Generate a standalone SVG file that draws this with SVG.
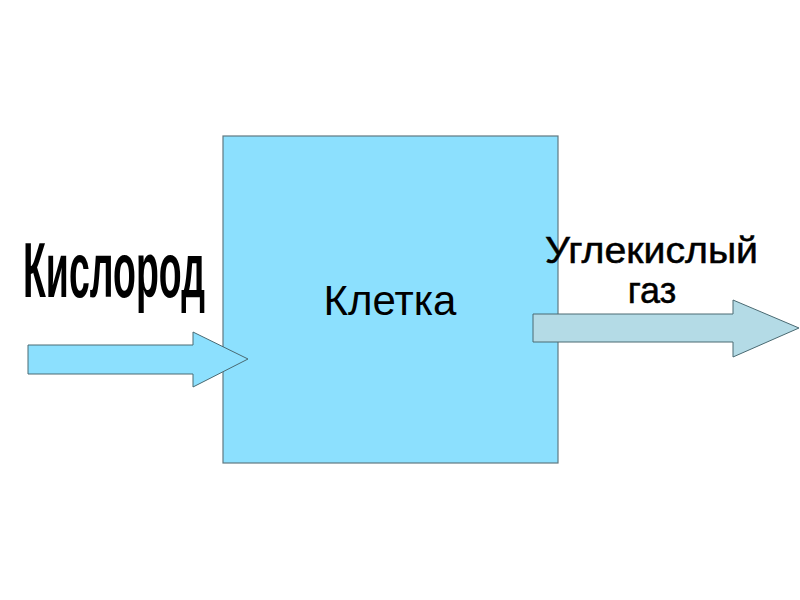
<svg xmlns="http://www.w3.org/2000/svg" width="800" height="600" viewBox="0 0 800 600">
<style>
.lbl{font-family:"Liberation Sans",Arial,sans-serif;fill:#000}
.arrow{stroke:#4a6a72;stroke-width:1}
</style>
<rect width="800" height="600" fill="#fff"/>
<g id="cell">
<rect x="223" y="136" width="335" height="327" fill="#8ce0fe" stroke="#607880" stroke-width="1.2"/>
<text class="lbl" x="390" y="315" font-size="42" text-anchor="middle">Клетка</text>
</g>
<g id="connectors">
<polygon class="arrow" fill="#8ce0fe" points="28,345 193,345 193,332 248,359 193,387 193,374 28,374"/>
<polygon class="arrow" fill="#b4dbe6" points="533,314 733,314 733,300 799,328 733,357 733,342 533,342"/>
</g>
<g id="oxygen">
<text class="lbl" transform="translate(23,297) scale(0.5,1)" x="0" y="0" font-size="77" font-weight="bold" textLength="364" lengthAdjust="spacingAndGlyphs">Кислород</text>
</g>
<g id="co2">
<text class="lbl" x="545" y="263" font-size="36" stroke="#000" stroke-width="0.5" textLength="213" lengthAdjust="spacingAndGlyphs">Углекислый</text>
<text class="lbl" x="652" y="303" font-size="36" stroke="#000" stroke-width="0.5" text-anchor="middle">газ</text>
</g>
</svg>
